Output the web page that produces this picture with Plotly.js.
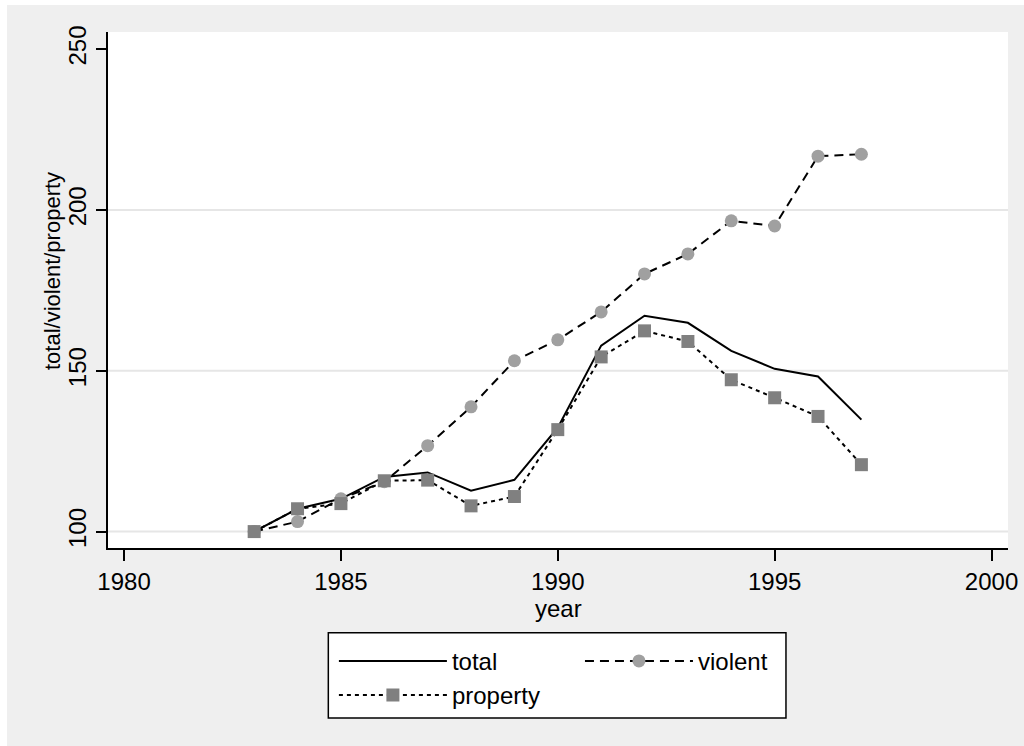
<!DOCTYPE html>
<html>
<head>
<meta charset="utf-8">
<script src="https://cdn.plot.ly/plotly-3.0.1.min.js"></script>
<style>
  html, body { margin: 0; padding: 0; background: #ffffff; }
  #chart { position: absolute; left: 7px; top: 5px; width: 1017px; height: 741px; }
</style>
</head>
<body>
<div id="chart"></div>
<script>
// ---- data ----
const years = [1983, 1984, 1985, 1986, 1987, 1988, 1989, 1990, 1991, 1992, 1993, 1994, 1995, 1996, 1997];
const total = [100, 107.1, 110.2, 117.0, 118.4, 112.7, 116.1, 132.3, 157.8, 167.1, 164.9, 156.2, 150.6, 148.2, 134.8];
const violent = [100, 103.1, 110.2, 115.5, 126.7, 138.8, 153.1, 159.6, 168.3, 180.1, 186.3, 196.6, 195.0, 216.7, 217.3];
const property = [100, 107.1, 108.7, 115.8, 116.0, 108.0, 110.9, 131.7, 154.3, 162.4, 159.1, 147.2, 141.6, 135.8, 120.8];
const xTicks = [1980, 1985, 1990, 1995, 2000];
const yTicks = [100, 150, 200, 250];
const gridVals = [100, 150, 200];
const seriesNames = ['total', 'violent', 'property'];
const xTitle = 'year';
const yTitle = 'total/violent/property';

const FONT = 'Liberation Sans, Arial, Helvetica, sans-serif';

const traces = [
  {
    x: years, y: total, name: seriesNames[0], type: 'scatter', mode: 'lines',
    line: { color: '#000000', width: 2 },
    legend: 'legend'
  },
  {
    x: years, y: violent, name: seriesNames[1], type: 'scatter', mode: 'lines+markers',
    line: { color: '#000000', width: 2, dash: '9px,6px' },
    marker: { symbol: 'circle', size: 13, color: '#a0a0a0' },
    legend: 'legend2'
  },
  {
    x: years, y: property, name: seriesNames[2], type: 'scatter', mode: 'lines+markers',
    line: { color: '#000000', width: 2, dash: '4px,4px' },
    marker: { symbol: 'square', size: 13, color: '#808080' },
    legend: 'legend'
  }
];

const shapes = gridVals.map(v => ({
  type: 'line', xref: 'paper', yref: 'y', x0: 0, x1: 1, y0: v, y1: v,
  line: { color: '#e6e6e6', width: 2 }, layer: 'below'
}));
// legend frame
shapes.push({
  type: 'rect', xref: 'paper', yref: 'paper',
  x0: 0.2448, x1: 0.7533, y0: -0.3295, y1: -0.1641,
  line: { color: '#000000', width: 1.5 }, fillcolor: '#ffffff', layer: 'above'
});

const legendCommon = {
  orientation: 'v', bgcolor: 'rgba(0,0,0,0)', borderwidth: 0,
  font: { family: FONT, size: 24, color: '#000000' },
  itemwidth: 108, xanchor: 'left', yanchor: 'top', itemclick: false
};

const layout = {
  width: 1017, height: 741,
  paper_bgcolor: '#efefef',
  plot_bgcolor: '#ffffff',
  margin: { l: 101, r: 16, t: 27, b: 198, pad: 0 },
  font: { family: FONT, color: '#000000' },
  showlegend: true,
  legend: Object.assign({}, legendCommon, { x: 0.251, y: -0.176 }),
  legend2: Object.assign({}, legendCommon, { x: 0.5244, y: -0.176 }),
  xaxis: {
    range: [1979.63, 2000.38],
    tickvals: xTicks, ticktext: xTicks.map(String),
    ticks: 'outside', ticklen: 11, tickwidth: 2, tickcolor: '#000000',
    showline: true, linecolor: '#000000', linewidth: 2,
    showgrid: false, zeroline: false,
    tickfont: { family: FONT, size: 24, color: '#000000' }
  },
  yaxis: {
    range: [94.9, 255.3],
    tickvals: yTicks, ticktext: yTicks.map(String),
    ticks: 'outside', ticklen: 10, tickwidth: 2, tickcolor: '#000000',
    showline: true, linecolor: '#000000', linewidth: 2,
    showgrid: false, zeroline: false, tickangle: -90,
    tickfont: { family: FONT, size: 24, color: '#000000' }
  },
  shapes: shapes,
  annotations: [
    { text: xTitle, xref: 'paper', yref: 'paper', x: 0.5, y: -0.117,
      xanchor: 'center', yanchor: 'middle', showarrow: false,
      font: { family: FONT, size: 24, color: '#000000' } },
    { text: yTitle, xref: 'paper', yref: 'paper', x: -0.0622, y: 0.5368,
      xanchor: 'center', yanchor: 'middle', showarrow: false, textangle: -90,
      font: { family: FONT, size: 22, color: '#000000' } }
  ]
};

Plotly.newPlot('chart', traces, layout, { displayModeBar: false, staticPlot: true });
</script>
</body>
</html>
